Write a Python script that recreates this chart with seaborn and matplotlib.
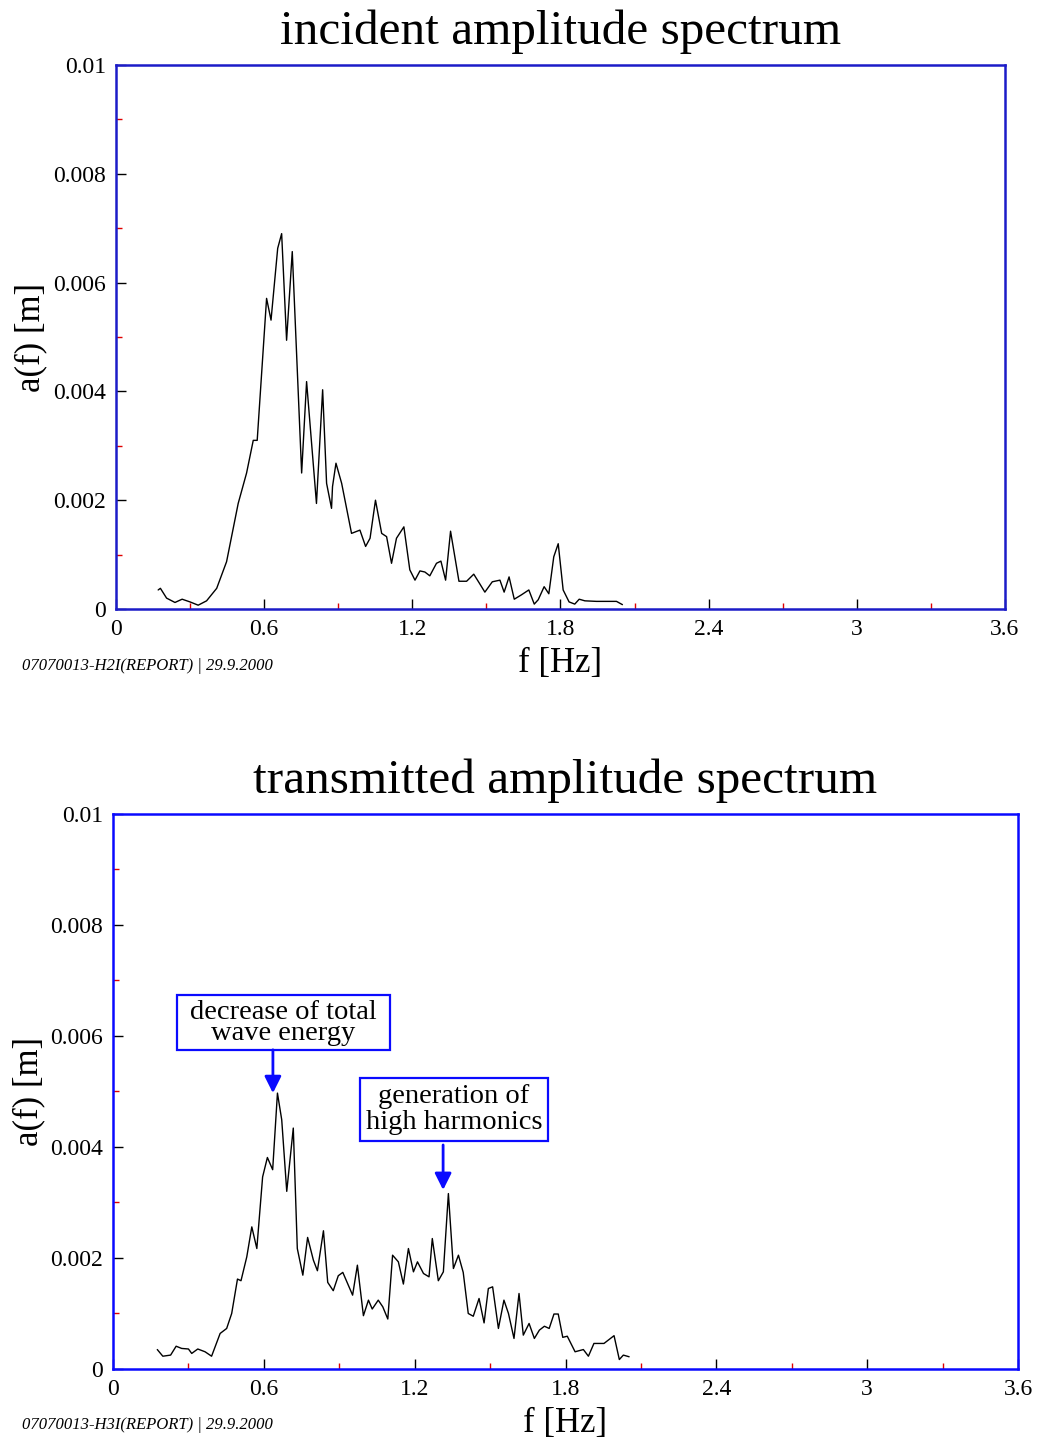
import numpy as np
import pandas as pd
import matplotlib
matplotlib.use("Agg")
import matplotlib.pyplot as plt
from matplotlib.patches import Rectangle
from matplotlib.ticker import FixedLocator, MultipleLocator
import seaborn as sns

# incident spectrum
inc_freq = [0.171, 0.18, 0.205, 0.239, 0.268, 0.3, 0.333, 0.367, 0.408, 0.448,
            0.495, 0.529, 0.556, 0.572, 0.61, 0.628, 0.655, 0.671, 0.691, 0.714,
            0.752, 0.772, 0.812, 0.837, 0.853, 0.873, 0.877, 0.891, 0.914, 0.954,
            0.988, 1.011, 1.029, 1.051, 1.076, 1.096, 1.116, 1.136, 1.166, 1.19,
            1.211, 1.231, 1.251, 1.271, 1.298, 1.316, 1.335, 1.355, 1.389, 1.42,
            1.449, 1.471, 1.494, 1.524, 1.555, 1.572, 1.592, 1.613, 1.642, 1.672,
            1.694, 1.71, 1.734, 1.753, 1.773, 1.791, 1.811, 1.835, 1.858, 1.876,
            1.899, 1.946, 1.987, 2.027, 2.051]
inc_amp = [0.00035, 0.00038, 0.0002, 0.00012, 0.00018, 0.00013, 0.00007, 0.00015, 0.00038, 0.00087,
           0.00194, 0.0025, 0.0031, 0.0031, 0.00571, 0.00531, 0.00663, 0.0069, 0.00494, 0.00657,
           0.0025, 0.00418, 0.00194, 0.00403, 0.00231, 0.00185, 0.00225, 0.00268, 0.00231, 0.00139,
           0.00145, 0.00115, 0.0013, 0.002, 0.00139, 0.00133, 0.00084, 0.0013, 0.00151, 0.00072,
           0.00053, 0.0007, 0.00068, 0.00061, 0.00084, 0.00088, 0.00053, 0.00143, 0.00051, 0.00051,
           0.00064, 0.00048, 0.00031, 0.0005, 0.00053, 0.00031, 0.00059, 0.00018, 0.00026, 0.00035,
           0.00009, 0.00017, 0.00041, 0.00028, 0.00096, 0.0012, 0.00035, 0.00013, 0.00009, 0.00018,
           0.00015, 0.00014, 0.00014, 0.00014, 0.00008]

# transmitted spectrum
trans_freq = [0.176, 0.198, 0.229, 0.251, 0.273, 0.3, 0.313, 0.337, 0.366, 0.392,
              0.426, 0.452, 0.472, 0.495, 0.509, 0.532, 0.552, 0.572, 0.595, 0.614,
              0.635, 0.654, 0.671, 0.691, 0.717, 0.733, 0.755, 0.774, 0.797, 0.813,
              0.837, 0.854, 0.876, 0.896, 0.914, 0.953, 0.972, 0.996, 1.016, 1.031,
              1.055, 1.073, 1.093, 1.112, 1.135, 1.155, 1.175, 1.195, 1.211, 1.235,
              1.257, 1.27, 1.294, 1.314, 1.334, 1.354, 1.374, 1.393, 1.413, 1.433,
              1.456, 1.476, 1.493, 1.51, 1.533, 1.555, 1.573, 1.595, 1.615, 1.632,
              1.655, 1.676, 1.696, 1.716, 1.735, 1.754, 1.771, 1.789, 1.807, 1.838,
              1.871, 1.891, 1.913, 1.953, 1.993, 2.014, 2.03, 2.053]
trans_amp = [0.00035, 0.00023, 0.00025, 0.00041, 0.00037, 0.00036, 0.00028, 0.00036, 0.00031, 0.00023,
             0.00064, 0.00073, 0.001, 0.00162, 0.00159, 0.00202, 0.00256, 0.00217, 0.00346, 0.00381,
             0.00359, 0.00497, 0.00449, 0.0032, 0.00434, 0.00217, 0.00169, 0.00237, 0.00196, 0.00177,
             0.00249, 0.00156, 0.00141, 0.00168, 0.00174, 0.00133, 0.00187, 0.00096, 0.00124, 0.00108,
             0.00124, 0.00112, 0.0009, 0.00205, 0.00193, 0.00153, 0.00217, 0.00175, 0.00193, 0.00172,
             0.00166, 0.00235, 0.00159, 0.00175, 0.00316, 0.00181, 0.00205, 0.00174, 0.001, 0.00095,
             0.00127, 0.00083, 0.00145, 0.00148, 0.00073, 0.00124, 0.001, 0.00055, 0.00136, 0.00061,
             0.00082, 0.00055, 0.0007, 0.00077, 0.00073, 0.00099, 0.00099, 0.00057, 0.00059, 0.00031,
             0.00035, 0.00023, 0.00046, 0.00046, 0.0006, 0.00017, 0.00025, 0.00022]

x_ticks = [0, 0.6, 1.2, 1.8, 2.4, 3, 3.6]
x_ticklabels = ['0', '0.6', '1.2', '1.8', '2.4', '3', '3.6']
y_ticks = [0, 0.002, 0.004, 0.006, 0.008, 0.01]
y_ticklabels = ['0', '0.002', '0.004', '0.006', '0.008', '0.01']

sns.set_style("white")
plt.rcParams['font.family'] = ['Liberation Serif', 'DejaVu Serif']
plt.rcParams['text.color'] = 'black'
plt.rcParams['axes.labelcolor'] = 'black'
plt.rcParams['xtick.labelcolor'] = 'black'
plt.rcParams['ytick.labelcolor'] = 'black'


def style_axes(ax, title, frame_color, footer_y, footer_text, fig):
    ax.set_xlim(0, 3.6)
    ax.set_ylim(0, 0.01)
    for sp in ax.spines.values():
        sp.set_visible(True)
        sp.set_color(frame_color)
        sp.set_linewidth(1.8)
    ax.xaxis.set_major_locator(FixedLocator(x_ticks))
    ax.set_xticklabels(x_ticklabels)
    ax.yaxis.set_major_locator(FixedLocator(y_ticks))
    ax.set_yticklabels(y_ticklabels)
    ax.xaxis.set_minor_locator(MultipleLocator(0.3))
    ax.yaxis.set_minor_locator(MultipleLocator(0.001))
    ax.tick_params(which='major', direction='in', length=7, width=1, color='black',
                   labelsize=17, bottom=True, left=True, top=False, right=False)
    ax.tick_params(axis='x', which='major', pad=7)
    ax.tick_params(axis='y', which='major', pad=7)
    ax.tick_params(which='minor', direction='in', length=4, width=1, color='#e00000',
                   bottom=True, left=True, top=False, right=False)
    ax.set_xlabel('f [Hz]', fontsize=25, labelpad=5)
    ax.set_ylabel('a(f) [m]', fontsize=25, labelpad=4)
    ax.set_title(title, fontsize=35.5, pad=15)
    fig.text(22 / 1039, footer_y, footer_text, fontsize=12, style='italic',
             ha='left', va='center')


fig = plt.figure(figsize=(10.39, 14.38), dpi=100)
ax1 = fig.add_axes([0.1116, 0.5765, 0.8556, 0.3783])
ax2 = fig.add_axes([0.1088, 0.048, 0.871, 0.386])

inc_df = pd.DataFrame({'f': inc_freq, 'a': inc_amp})
trans_df = pd.DataFrame({'f': trans_freq, 'a': trans_amp})

sns.lineplot(data=inc_df, x='f', y='a', ax=ax1, color='black', lw=1.0,
             sort=False, estimator=None)
sns.lineplot(data=trans_df, x='f', y='a', ax=ax2, color='black', lw=1.0,
             sort=False, estimator=None)

style_axes(ax1, 'incident amplitude spectrum', '#1c1cc8', 1 - 666 / 1438,
           '07070013-H2I(REPORT) | 29.9.2000', fig)
style_axes(ax2, 'transmitted amplitude spectrum', '#0a0aff', 1 - 1425 / 1438,
           '07070013-H3I(REPORT) | 29.9.2000', fig)

blue = '#0a0aff'
# first note: frame drawn as a rectangle so it can be tighter than the text bbox
ax2.add_patch(Rectangle((0.255, 0.005748), 1.102 - 0.255, 0.006739 - 0.005748,
                        fc='white', ec=blue, lw=1.6, zorder=3))
ax2.text(0.678, 0.00624, 'decrease of total\nwave energy', fontsize=20.5,
         ha='center', va='center', linespacing=0.8, zorder=4)
ax2.text(1.356, 0.004676, 'generation of\nhigh harmonics', fontsize=20.5,
         ha='center', va='center', linespacing=1.05, zorder=4,
         bbox=dict(boxstyle='square,pad=0.2', fc='white', ec=blue, lw=1.6))
ax2.annotate('', xy=(0.636, 0.00497), xytext=(0.636, 0.00575),
             arrowprops=dict(arrowstyle='-|>', color=blue, lw=2, mutation_scale=25,
                             shrinkA=0, shrinkB=0))
ax2.annotate('', xy=(1.313, 0.003225), xytext=(1.313, 0.004036),
             arrowprops=dict(arrowstyle='-|>', color=blue, lw=2, mutation_scale=25,
                             shrinkA=0, shrinkB=0))

fig.savefig('out.png', dpi=100, facecolor='white')
